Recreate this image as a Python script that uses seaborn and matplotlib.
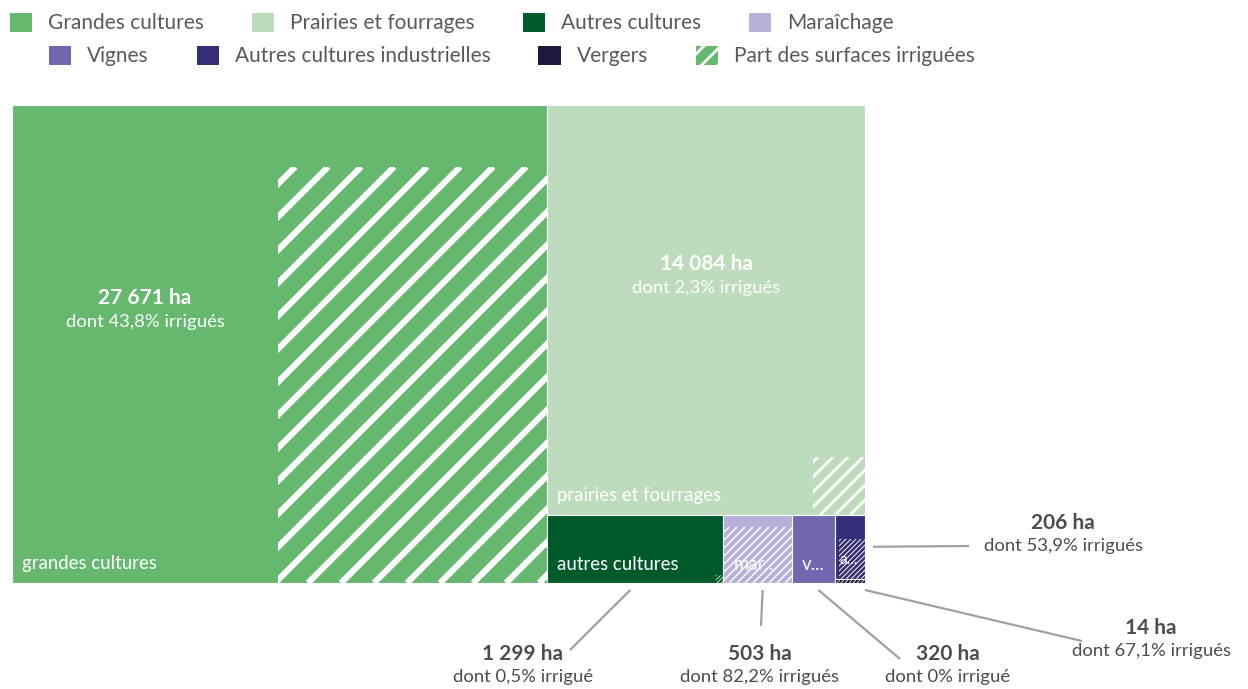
import numpy as np
import matplotlib.pyplot as plt
from matplotlib.patches import Rectangle, Patch
from matplotlib.collections import LineCollection
import seaborn as sns

# surfaces agricoles et part irriguée
categories = ["Grandes cultures", "Prairies et fourrages", "Autres cultures", "Maraîchage",
              "Vignes", "Autres cultures industrielles", "Vergers"]
surfaces_ha = [27671, 14084, 1299, 503, 320, 206, 14]
part_irriguee = [43.8, 2.3, 0.5, 82.2, 0.0, 53.9, 67.1]
legend_hatch_label = "Part des surfaces irriguées"

colors = sns.color_palette(["#66b86f", "#bddcbd", "#005a2c", "#b8b0d9",
                            "#6f68b1", "#352e78", "#1c1a3f"])

sns.set_theme(style="white")
plt.rcParams['font.family'] = ['Lato', 'DejaVu Sans']
plt.rcParams['hatch.linewidth'] = 2.0

# treemap frame (pixel coordinates, y going down)
X0, Y0, W, H = 12, 105, 853, 478
hatch_step = [33, 15, 4, 8, 6, 5, 4]
hatch_shape = [0.647, 0.9, 1.0, 0.647, 0.647, 0.647, 0.647]
# external labels: text centre and end of the leader line
outside = {
    "Autres cultures": ((523, 654), (570, 650)),
    "Maraîchage": ((760, 654), (761, 626)),
    "Vignes": ((948, 654), (900, 659)),
    "Autres cultures industrielles": ((1063, 523), (969, 546)),
    "Vergers": ((1151, 628), (1082, 641)),
}
text_grey = "#504b4b"


def squarify(values, x, y, w, h):
    values = list(values)
    rects = []
    while values:
        short = min(w, h)

        def worst(r):
            side = sum(r) / short
            return max(max(side / (v / side), (v / side) / side) for v in r)

        row = [values[0]]
        i = 1
        while i < len(values) and worst(row + [values[i]]) <= worst(row):
            row.append(values[i])
            i += 1
        s = sum(row)
        if w >= h:
            cw = s / h
            yy = y
            for v in row:
                rects.append((x, yy, cw, v / cw))
                yy += v / cw
            x += cw
            w -= cw
        else:
            rh = s / w
            xx = x
            for v in row:
                rects.append((xx, y, v / rh, rh))
                xx += v / rh
            y += rh
            h -= rh
        values = values[i:]
    return rects


def hatch_box(x, y, w, h, share, k):
    a = w * h * share / 100
    if a <= 0:
        return None
    hw = min(w, np.sqrt(a * k))
    hh = a / hw
    if hh > h:
        hw = w
        hh = min(h, a / w)
    return (x + w - hw, y + h - hh, hw, hh)


def stripes(ax, box, step):
    bx, by, bw, bh = box
    clip = Rectangle((bx, by), bw, bh, facecolor="none", edgecolor="none")
    ax.add_patch(clip)
    cs = np.arange(np.floor((bx + by) / step) * step, bx + bw + by + bh + step, step)
    segs = [[(c - (by + bh), by + bh), (c - by, by)] for c in cs]
    lw = 0.26 * step / np.sqrt(2) * 0.72
    lc = LineCollection(segs, colors="white", linewidths=lw)
    ax.add_collection(lc)
    lc.set_clip_path(clip)


def fmt_ha(v):
    return f"{v:,}".replace(",", " ") + " ha"


def fmt_share(p):
    txt = "0" if p == 0 else f"{p:.1f}".replace(".", ",")
    return f"dont {txt}% " + ("irrigués" if p >= 2 else "irrigué")


fig = plt.figure(figsize=(12.48, 6.89), dpi=100)
ax = fig.add_axes([0, 0, 1, 1])
ax.set_xlim(0, 1248)
ax.set_ylim(689, 0)
ax.axis("off")
renderer = fig.canvas.get_renderer()

total = sum(surfaces_ha)
areas = [v * W * H / total for v in surfaces_ha]
rects = squarify(areas, X0, Y0, W, H)

for i, (name, val, share, (x, y, w, h)) in enumerate(zip(categories, surfaces_ha, part_irriguee, rects)):
    ax.add_patch(Rectangle((x, y), w, h, facecolor=colors[i], edgecolor="white", linewidth=0.8))
    box = hatch_box(x, y, w, h, share, hatch_shape[i])
    if box is not None:
        stripes(ax, box, hatch_step[i])

    # category name, shortened to fit
    if h > 20:
        pad = 10 if w > 40 else 4
        size = 13.4 if w > 40 else 11
        room = w - pad - 7
        label = name.lower()
        t = ax.text(x + pad, y + h - 19, label, color="white", fontsize=size, va="center", ha="left")
        n = len(label)
        while t.get_window_extent(renderer).width > room and n > 0:
            n -= 1
            t.set_text(label[:n] + "...")
        if t.get_window_extent(renderer).width > room:
            t.set_text("")

    if w > 200:
        cx = x + w / 2
        if box is not None and box[3] > h / 2:
            cx = (x + box[0]) / 2
        cy = y + h / 2
        ax.text(cx, cy - 46, fmt_ha(val), color="white", fontsize=15, fontweight="bold", ha="center", va="center")
        ax.text(cx, cy - 22, fmt_share(share), color="white", fontsize=13.3, ha="center", va="center")
    else:
        (tx, ty), (lx, ly) = outside[name]
        if name == "Autres cultures industrielles":
            start = (x + w + 8, y + h / 2)
        elif name == "Vergers":
            start = (x + w, y + h + 7)
        else:
            start = (x + w / 2 + 5 * np.sign(lx - (x + w / 2)), y + h + 7)
        ax.plot([start[0], lx], [start[1], ly], color="#a0a0a0", lw=1.6, solid_capstyle="butt")
        ax.text(tx, ty, fmt_ha(val), color=text_grey, fontsize=15, fontweight="bold", ha="center", va="center")
        ax.text(tx, ty + 23, fmt_share(share), color=text_grey, fontsize=13.3, ha="center", va="center")

# legend on two lines
fs = 15
handles = [Patch(facecolor=c, edgecolor="none") for c in colors]
handles.append(Patch(facecolor=colors[0], edgecolor="white", linewidth=0, hatch="//"))
labels = categories + [legend_hatch_label]
leg_kw = dict(frameon=False, fontsize=fs, handlelength=1.06, handleheight=1.06, handletextpad=0.77,
              columnspacing=2.3, borderpad=0, borderaxespad=0, labelcolor="#595959", loc="center left")
leg1 = fig.legend(handles[:4], labels[:4], ncol=4, bbox_to_anchor=(10 / 1248, 1 - 23 / 689), **leg_kw)
leg2 = fig.legend(handles[4:], labels[4:], ncol=4, bbox_to_anchor=(49 / 1248, 1 - 56 / 689), **leg_kw)

fig.savefig("out.png", dpi=100)
